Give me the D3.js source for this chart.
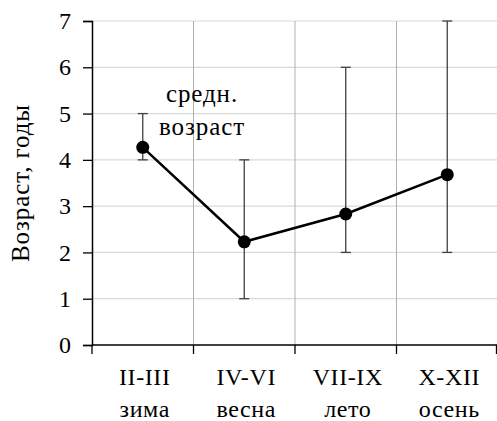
<!DOCTYPE html>
<html>
<head>
<meta charset="utf-8">
<script src="https://cdn.jsdelivr.net/npm/d3@7"></script>
</head>
<body style="margin:0;background:#fff">
<div id="svgContainer"></div>
<script>
var width = 497, height = 421;

// data
var months = ["II-III", "IV-VI", "VII-IX", "X-XII"];
var seasons = ["зима", "весна", "лето", "осень"];
var meanAge = [4.27, 2.23, 2.83, 3.68];
var minAge = [4, 1, 2, 2];
var maxAge = [5, 4, 6, 7];
var yTicks = [0, 1, 2, 3, 4, 5, 6, 7];

var margin = { left: 92, right: 0, top: 21, bottom: 76 };
var fontSize = 24;
var font = "Liberation Serif";
var spacing = 0.6;

var svg = d3.select("#svgContainer").append("svg")
    .attr("width", width)
    .attr("height", height)
    .style("display", "block");

var x = d3.scaleBand()
    .domain(months)
    .range([margin.left, 498]);

var y = d3.scaleLinear()
    .domain([0, 7])
    .range([height - margin.bottom, margin.top]);

// horizontal grid
svg.append("g")
    .selectAll("line")
    .data(yTicks.slice(1))
    .enter().append("line")
    .attr("x1", margin.left)
    .attr("x2", 498)
    .attr("y1", d => y(d))
    .attr("y2", d => y(d))
    .attr("stroke", "#d9d9d9")
    .attr("stroke-width", 1.2);

// vertical grid at category boundaries
svg.append("g")
    .selectAll("line")
    .data(months.slice(1))
    .enter().append("line")
    .attr("x1", d => x(d))
    .attr("x2", d => x(d))
    .attr("y1", y(7))
    .attr("y2", y(0))
    .attr("stroke", "#b0b0b0")
    .attr("stroke-width", 1);

// y axis
var yAxis = svg.append("g")
    .attr("transform", "translate(" + margin.left + ",0)")
    .call(d3.axisLeft(y).tickValues(yTicks).tickSize(9).tickPadding(12).tickFormat(d3.format("d")));
yAxis.attr("font-family", font);
yAxis.select(".domain").attr("stroke", "#000").attr("stroke-width", 1.5);
yAxis.selectAll(".tick line").attr("stroke", "#000").attr("stroke-width", 1.3);
yAxis.selectAll("text")
    .attr("font-family", font)
    .attr("font-size", fontSize)
    .attr("fill", "#000");

// x axis: ticks at band edges
var xAxisG = svg.append("g");
xAxisG.append("line")
    .attr("x1", margin.left)
    .attr("x2", 498)
    .attr("y1", y(0))
    .attr("y2", y(0))
    .attr("stroke", "#000")
    .attr("stroke-width", 1.5);
xAxisG.selectAll(".edge")
    .data(months)
    .enter().append("line")
    .attr("class", "edge")
    .attr("x1", d => x(d))
    .attr("x2", d => x(d))
    .attr("y1", y(0))
    .attr("y2", y(0) + 9)
    .attr("stroke", "#000")
    .attr("stroke-width", 1.3);
xAxisG.append("line")
    .attr("x1", 496.5)
    .attr("x2", 496.5)
    .attr("y1", y(0))
    .attr("y2", y(0) + 9)
    .attr("stroke", "#000")
    .attr("stroke-width", 1.3);

xAxisG.selectAll(".mlab")
    .data(months)
    .enter().append("text")
    .attr("x", d => x(d) + x.bandwidth() / 2 + 2)
    .attr("y", 385)
    .attr("text-anchor", "middle")
    .attr("font-family", font)
    .attr("font-size", fontSize)
    .attr("letter-spacing", spacing)
    .text(d => d);

xAxisG.selectAll(".slab")
    .data(seasons)
    .enter().append("text")
    .attr("x", (d, i) => x(months[i]) + x.bandwidth() / 2 + 2)
    .attr("y", 417)
    .attr("text-anchor", "middle")
    .attr("font-family", font)
    .attr("font-size", fontSize)
    .attr("letter-spacing", spacing)
    .text(d => d);

// axis title
svg.append("text")
    .attr("transform", "translate(29,183) rotate(-90)")
    .attr("text-anchor", "middle")
    .attr("font-family", font)
    .attr("font-size", 25)
    .attr("letter-spacing", 0.9)
    .text("Возраст, годы");

// error bars
var cx = (d, i) => x(months[i]) + x.bandwidth() / 2;
var err = svg.append("g")
    .attr("stroke", "#404040")
    .attr("stroke-width", 1.3);
err.selectAll(".bar")
    .data(months)
    .enter().append("line")
    .attr("x1", cx).attr("x2", cx)
    .attr("y1", (d, i) => y(minAge[i]))
    .attr("y2", (d, i) => y(maxAge[i]));
err.selectAll(".capTop")
    .data(months)
    .enter().append("line")
    .attr("x1", (d, i) => cx(d, i) - 5).attr("x2", (d, i) => cx(d, i) + 5)
    .attr("y1", (d, i) => y(maxAge[i]))
    .attr("y2", (d, i) => y(maxAge[i]));
err.selectAll(".capBot")
    .data(months)
    .enter().append("line")
    .attr("x1", (d, i) => cx(d, i) - 5).attr("x2", (d, i) => cx(d, i) + 5)
    .attr("y1", (d, i) => y(minAge[i]))
    .attr("y2", (d, i) => y(minAge[i]));

// mean line
var line = d3.line()
    .x((d, i) => cx(null, i))
    .y(d => y(d));
svg.append("path")
    .datum(meanAge)
    .attr("d", line)
    .attr("fill", "none")
    .attr("stroke", "#000")
    .attr("stroke-width", 2.5);

svg.append("g")
    .selectAll("circle")
    .data(meanAge)
    .enter().append("circle")
    .attr("cx", (d, i) => cx(null, i))
    .attr("cy", d => y(d))
    .attr("r", 6.5)
    .attr("fill", "#000");

// annotation
var ann = svg.append("text")
    .attr("text-anchor", "middle")
    .attr("font-family", font)
    .attr("font-size", 25)
    .attr("letter-spacing", 0.9);
ann.append("tspan").attr("x", 202).attr("y", 102).text("средн.");
ann.append("tspan").attr("x", 202).attr("y", 135).text("возраст");
</script>
</body>
</html>
